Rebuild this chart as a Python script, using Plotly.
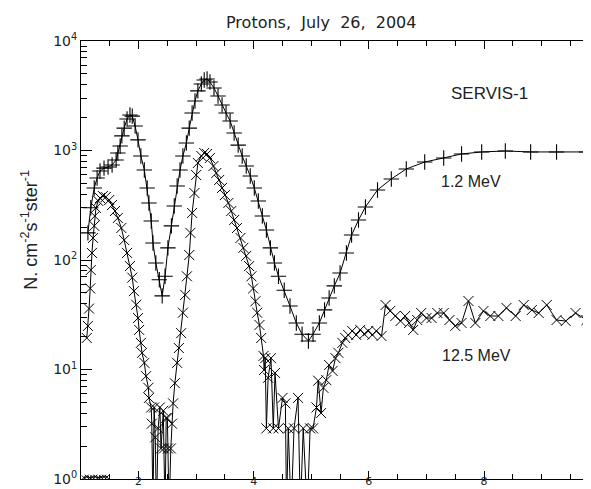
import plotly.graph_objs as go

# 1.2 MeV channel (+ markers)
s1_x = [1.12, 1.17, 1.23, 1.28, 1.33, 1.40, 1.47, 1.54, 1.61, 1.64, 1.68, 1.71, 1.75,
        1.80, 1.85, 1.89, 1.94, 1.99, 2.04, 2.10, 2.15, 2.18, 2.22, 2.25, 2.30, 2.36,
        2.41, 2.46, 2.51, 2.57, 2.62, 2.67, 2.72, 2.77, 2.83, 2.88, 2.93, 2.98, 3.03,
        3.09, 3.14, 3.19, 3.24, 3.31, 3.38, 3.45, 3.52, 3.59, 3.66, 3.73, 3.80, 3.87,
        3.94, 4.01, 4.08, 4.15, 4.22, 4.29, 4.36, 4.43, 4.53, 4.63, 4.74, 4.84, 4.95,
        5.03, 5.14, 5.23, 5.31, 5.40, 5.50, 5.61, 5.70, 5.82, 5.94, 6.15, 6.39, 6.65,
        6.97, 7.30, 7.61, 7.96, 8.37, 8.81, 9.26, 9.78]
s1_y = [177, 300, 455, 560, 650, 690, 707, 737, 820, 950, 1100, 1360, 1600,
        1940, 2110, 2060, 1675, 1250, 890, 664, 455, 332, 227, 143, 94, 66,
        47, 71, 129, 205, 311, 474, 664, 890, 1170, 1600, 2200, 2830, 3500,
        4050, 4400, 4500, 4220, 3720, 3150, 2600, 2200, 1860, 1445, 1120, 890, 721,
        585, 455, 346, 252, 188, 129, 94, 71, 53, 38, 26.6, 21, 18.2,
        21, 26.6, 35, 45, 58, 76, 116, 169, 232, 305, 436, 550, 678,
        785, 855, 930, 970, 990, 970, 970, 970]

# 12.5 MeV channel (x markers); 0.5 = zero counts (below axis)
s2_x = [1.10, 1.12, 1.14, 1.16, 1.17, 1.19, 1.21, 1.23, 1.24, 1.26, 1.30, 1.33, 1.38,
        1.43, 1.49, 1.54, 1.59, 1.64, 1.70, 1.75, 1.80, 1.85, 1.89, 1.92, 1.96, 1.99,
        2.01, 2.04, 2.06, 2.10, 2.13, 2.17, 2.18, 2.22, 2.23, 2.25, 2.27, 2.29, 2.31,
        2.34, 2.37, 2.39, 2.43, 2.44, 2.46, 2.48, 2.50, 2.51, 2.53, 2.56, 2.58, 2.60,
        2.63, 2.67, 2.70, 2.74, 2.77, 2.81, 2.84, 2.88, 2.90, 2.93, 2.97, 3.00, 3.03,
        3.09, 3.14, 3.19, 3.24, 3.30, 3.35, 3.40, 3.45, 3.50, 3.56, 3.61, 3.66, 3.71,
        3.77, 3.82, 3.87, 3.92, 3.96, 3.99, 4.03, 4.06, 4.10, 4.13, 4.17, 4.18, 4.20,
        4.22, 4.25, 4.30, 4.34, 4.37, 4.43, 4.50, 4.55, 4.57, 4.60, 4.65, 4.70, 4.77,
        4.81, 4.86, 4.93, 4.98, 5.03, 5.09, 5.12, 5.17, 5.21, 5.26, 5.31, 5.37, 5.42,
        5.47, 5.54, 5.59, 5.64, 5.71, 5.78, 5.85, 5.92, 5.99, 6.06, 6.13, 6.22, 6.29,
        6.37, 6.46, 6.55, 6.63, 6.70, 6.77, 6.84, 6.91, 7.00, 7.09, 7.19, 7.30, 7.40,
        7.50, 7.61, 7.73, 7.85, 7.99, 8.11, 8.25, 8.39, 8.55, 8.69, 8.83, 8.95, 9.09,
        9.26, 9.42, 9.59, 9.78, 9.96]
s2_y = [19.4, 25, 36, 55, 81, 116, 159, 205, 252, 299, 346, 368, 384,
        376, 353, 318, 280, 242, 196, 152, 116, 88, 69, 52, 39, 29.5,
        23, 17.5, 14.2, 11.5, 8.7, 6.8, 5.5, 4.5, 3.2, 0.5, 4.5, 2.4, 0.5,
        2.9, 4.5, 1.9, 4.2, 1.9, 0.5, 3.6, 3.6, 1.9, 0.5, 1.9, 3.2, 4.9,
        7.5, 11.5, 15.7, 21.5, 33, 48, 71, 111, 177, 269, 409, 597, 769,
        891, 949, 929, 855, 721, 623, 538, 455, 392, 332, 280, 232, 196,
        159, 129, 109, 88, 71, 55, 42, 33, 25.5, 19.4, 13.3, 9.9, 12.7,
        2.9, 8.4, 12.7, 2.9, 9.3, 2.9, 5.5, 4.9, 0.5, 2.9, 0.5, 2.9, 5.5,
        0.5, 2.9, 0.5, 2.9, 2.9, 4.5, 7.9, 4.0, 6.8, 8.0, 11, 9.7, 12.7,
        14.2, 17.5, 19.4, 20.7, 22.5, 20.7, 23, 21.1, 22.5, 20.7, 22.5, 20.2, 38.8,
        34.2, 30.8, 27.7, 30.8, 26.6, 23, 28.3, 32.8, 29.5, 29.5, 32.8, 32.8, 28.3,
        25, 26.6, 42.2, 26.6, 34.2, 30.8, 30.8, 36.5, 30.8, 38.8, 34.9, 32.8, 38.8,
        28.3, 27.7, 32.8, 28.3, 40]

# baseline channel sitting on the axis at the far left
base_x = [1.05, 1.10, 1.15, 1.20, 1.25, 1.30, 1.35, 1.40, 1.45]
base_y = [1.03, 1.05, 1.03, 1.04, 1.05, 1.03, 1.04, 1.05, 1.04]

ytick_vals = [1, 10, 100, 1000, 10000]
ytick_text = ["10<sup>0</sup>", "10<sup>1</sup>", "10<sup>2</sup>",
              "10<sup>3</sup>", "10<sup>4</sup>"]
xtick_vals = [2, 4, 6, 8]

ink = "#222222"

traces = [
    go.Scatter(x=base_x, y=base_y, mode="lines+markers",
               line=dict(color="black", width=1),
               marker=dict(symbol="x-thin-open", size=4, line=dict(color="black", width=1))),
    go.Scatter(x=s1_x, y=s1_y, mode="lines+markers",
               line=dict(color="black", width=1),
               marker=dict(symbol="cross-thin-open", size=11, line=dict(color="black", width=1.1))),
    go.Scatter(x=s2_x, y=s2_y, mode="lines+markers",
               line=dict(color="black", width=1),
               marker=dict(symbol="x-thin-open", size=10, line=dict(color="black", width=1))),
]


def label(text, x, y, size, angle=0):
    return dict(text=text, xref="paper", yref="paper", x=x, y=y,
                xanchor="center", yanchor="middle", textangle=angle,
                showarrow=False,
                font=dict(family="Liberation Sans", size=size, color=ink))


layout = go.Layout(
    width=591, height=489,
    margin=dict(l=73, r=1, t=33, b=18),
    paper_bgcolor="white", plot_bgcolor="white",
    showlegend=False,
    xaxis=dict(range=[1.0, 9.98], showline=True, linecolor="black", linewidth=1,
               mirror="ticks", ticks="inside", ticklen=8, tickcolor="black",
               tickvals=xtick_vals, showgrid=False, zeroline=False,
               ticklabelstandoff=-8,
               tickfont=dict(family="DejaVu Sans", size=11, color=ink),
               minor=dict(ticks="inside", ticklen=5, dtick=0.5, tick0=1,
                          tickcolor="black", showgrid=False)),
    yaxis=dict(type="log", range=[0, 4], showline=True, linecolor="black", linewidth=1,
               mirror="ticks", ticks="inside", ticklen=11, tickcolor="black",
               tickvals=ytick_vals, ticktext=ytick_text, showgrid=False,
               tickfont=dict(family="DejaVu Sans", size=14, color=ink),
               minor=dict(ticks="inside", ticklen=6, dtick="D1",
                          tickcolor="black", showgrid=False)),
    annotations=[
        dict(text="Protons,  July  26,  2004", xref="paper", yref="paper",
             x=0.465, y=1.0, xanchor="center", yanchor="bottom", yshift=7,
             showarrow=False,
             font=dict(family="DejaVu Sans", size=16, color=ink)),
        label("N. cm<sup>-2</sup>s<sup>-1</sup>ster<sup>-1</sup>", -0.1, 0.57, 18, -90),
        label("SERVIS-1", 0.79, 0.881, 17),
        label("1.2 MeV", 0.755, 0.680, 16),
        label("12.5 MeV", 0.765, 0.281, 16),
    ],
)

fig = go.Figure(data=traces, layout=layout)
fig.write_html("out.html")
